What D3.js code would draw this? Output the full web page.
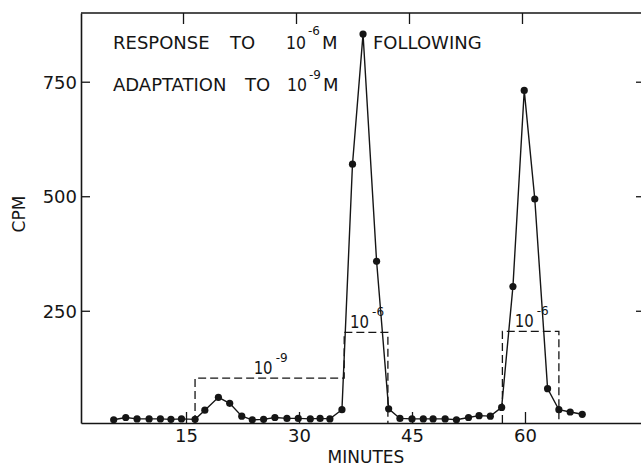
<!DOCTYPE html>
<html><head><meta charset="utf-8">
<script src="https://cdn.jsdelivr.net/npm/d3@7"></script>
<style>
body{margin:0;background:#fff}
svg{display:block}
text{font-family:"DejaVu Sans",sans-serif;fill:#151515}
</style></head>
<body><svg id="c" width="641" height="468"></svg>
<script>
// ---- data ----
const minutes = [5.4, 7.0, 8.5, 10.1, 11.6, 13.0, 14.4, 16.2, 17.5, 19.3,
                 20.8, 22.4, 23.8, 25.3, 26.8, 28.4, 29.9, 31.5, 32.8, 34.1,
                 35.7, 37.1, 38.5, 40.3, 41.9, 43.4, 45.0, 46.5, 47.8, 49.4,
                 50.9, 52.5, 53.9, 55.4, 56.9, 58.4, 59.9, 61.3, 63.0, 64.5,
                 66.0, 67.6];
const cpm = [12, 17, 14, 14, 14, 13, 14, 13, 33, 61,
             48, 20, 12, 13, 17, 15, 15, 14, 15, 14,
             34, 570, 854, 358, 36, 15, 14, 14, 14, 14,
             12, 17, 21, 20, 39, 303, 731, 494, 80, 34,
             29, 24];
// stimulus periods (dashed boxes)
const stimStart = [16.2, 36.0, 57.0];
const stimEnd   = [36.0, 41.8, 64.5];
const stimLevel = [103, 203, 205];
const stimExp   = ["-9", "-6", "-6"];
// ticks
const xTicks = [15, 30, 45, 60];
const yTicks = [250, 500, 750];

const ink = "#151515";
const svg = d3.select("#c");
const x = d3.scaleLinear().domain([1.06, 75.4]).range([81, 641]);
const y = d3.scaleLinear().domain([5, 900]).range([423, 13]);
const base = y.range()[0];

// frame top line
svg.append("line").attr("x1", 81).attr("x2", 641).attr("y1", 13).attr("y2", 13)
  .attr("stroke", ink).attr("stroke-width", 1.6);

// bottom axis
const gx = svg.append("g").attr("transform", `translate(0,${base})`).style("color", ink)
  .call(d3.axisBottom(x).tickValues(xTicks).tickSizeInner(-11).tickSizeOuter(0).tickPadding(6));
gx.select(".domain").attr("stroke-width", 1.6);
gx.selectAll(".tick line").attr("stroke-width", 1.3);
gx.selectAll("text").style("font-size", "18px").attr("fill", ink).style("font-family", '"DejaVu Sans",sans-serif');

// left axis
const gy = svg.append("g").attr("transform", `translate(81,0)`).style("color", ink)
  .call(d3.axisLeft(y).tickValues(yTicks).tickSizeInner(-9).tickSizeOuter(0).tickPadding(4));
gy.select(".domain").attr("stroke-width", 1.6);
gy.selectAll(".tick line").attr("stroke-width", 1.3);
gy.selectAll("text").style("font-size", "18px").attr("fill", ink).attr("dy", "0.36em").style("font-family", '"DejaVu Sans",sans-serif');

// top ticks
const gt = svg.append("g").attr("transform", `translate(-3,13)`).style("color", ink)
  .call(d3.axisTop(x).tickValues(xTicks).tickSizeInner(-11).tickSizeOuter(0).tickFormat(""));
gt.select(".domain").remove();
gt.selectAll(".tick line").attr("stroke-width", 1.3);

// right ticks
const gr = svg.append("g").attr("transform", `translate(641,0)`).style("color", ink)
  .call(d3.axisRight(y).tickValues(yTicks).tickSizeInner(-5).tickSizeOuter(0).tickFormat(""));
gr.select(".domain").remove();
gr.selectAll(".tick line").attr("stroke-width", 1.3);

// stimulus step outline
let p = d3.path();
stimStart.forEach((s, i) => {
  if (i === 0 || stimStart[i] !== stimEnd[i - 1]) p.moveTo(x(s), base);
  p.lineTo(x(s), y(stimLevel[i]));
  p.lineTo(x(stimEnd[i]), y(stimLevel[i]));
  if (i === stimStart.length - 1 || stimStart[i + 1] !== stimEnd[i]) p.lineTo(x(stimEnd[i]), base);
});
svg.append("path").attr("d", p.toString()).attr("fill", "none")
  .attr("stroke", ink).attr("stroke-width", 1.3).attr("stroke-dasharray", "8,4");

// stimulus labels
stimStart.forEach((s, i) => {
  const cx = (x(s) + x(stimEnd[i])) / 2 - 6;
  const by = y(stimLevel[i]) - 4;
  svg.append("text").attr("x", cx - 10).attr("y", by)
    .attr("textLength", 19).attr("lengthAdjust", "spacingAndGlyphs")
    .style("font-size", "18px").text("10");
  svg.append("text").attr("x", cx + 12).attr("y", by - 12)
    .style("font-size", "12px").text(stimExp[i]);
});

// data line & points
const pts = minutes.map((m, i) => [m, cpm[i]]);
svg.append("path").datum(pts)
  .attr("d", d3.line().x(d => x(d[0])).y(d => y(d[1])))
  .attr("fill", "none").attr("stroke", ink).attr("stroke-width", 1.4);
svg.selectAll("circle.pt").data(pts).join("circle")
  .attr("cx", d => x(d[0])).attr("cy", d => y(d[1])).attr("r", 3.6).attr("fill", ink);

// title annotation
function t(xp, yp, s, size, len) {
  const e = svg.append("text").attr("x", xp).attr("y", yp).style("font-size", size + "px").text(s);
  if (len) e.attr("textLength", len).attr("lengthAdjust", "spacingAndGlyphs");
}
t(113, 49, "RESPONSE", 18); t(230, 49, "TO", 18); t(286, 49, "10", 18, 20);
t(308, 35, "-6", 12); t(322, 49, "M", 18); t(373, 49, "FOLLOWING", 18);
t(113, 91, "ADAPTATION", 18); t(245, 91, "TO", 18); t(287, 91, "10", 18, 20);
t(309, 79, "-9", 12); t(323, 91, "M", 18);

// axis titles
svg.append("text").attr("transform", "translate(25,214) rotate(-90)")
  .attr("text-anchor", "middle").style("font-size", "17px").text("CPM");
svg.append("text").attr("x", 366).attr("y", 463).attr("text-anchor", "middle")
  .style("font-size", "17px").text("MINUTES");
</script></body></html>
